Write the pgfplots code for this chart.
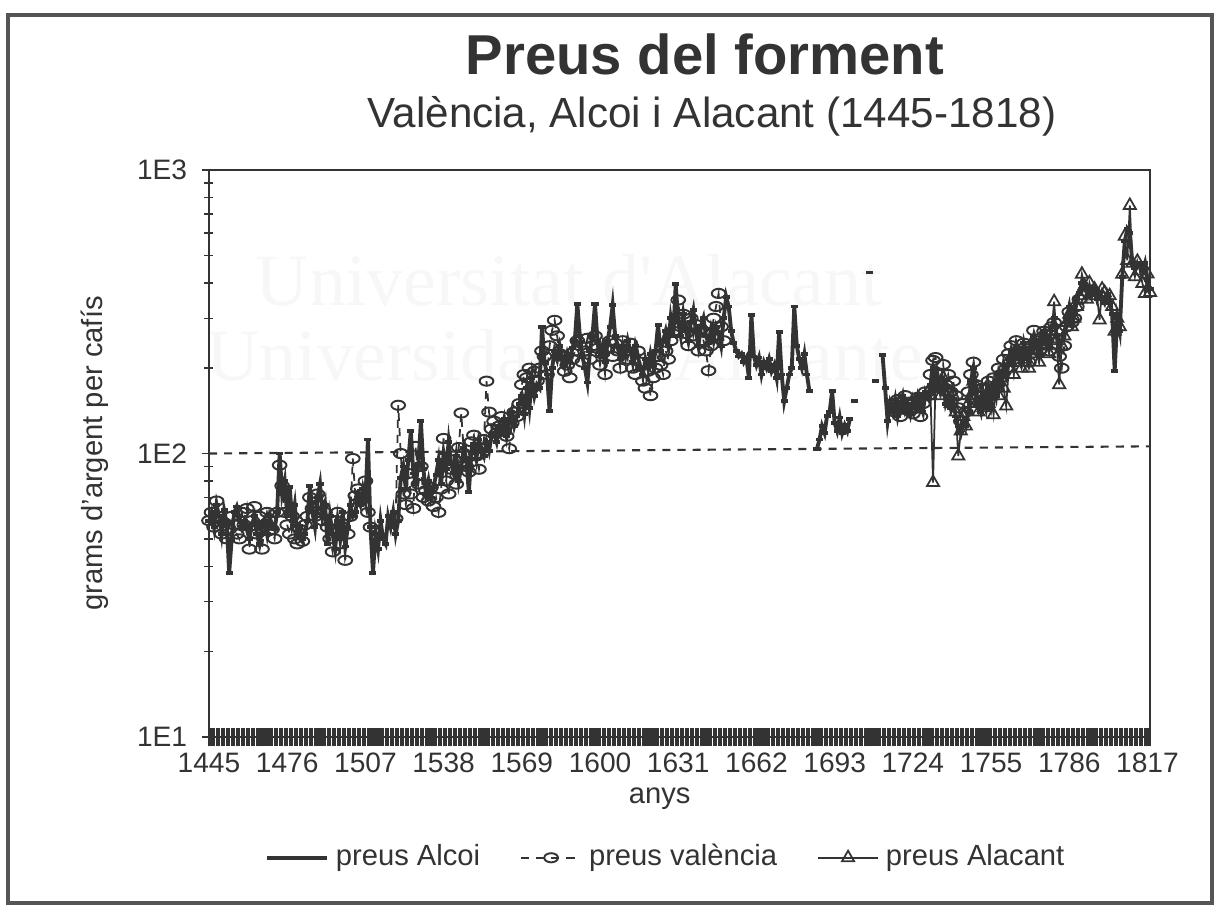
\documentclass[border=0pt]{standalone}
\usepackage{fontspec}
\setmainfont{Liberation Sans}
\newfontfamily\wmfont{Liberation Serif}
\usepackage{pgfplots}
\pgfplotsset{compat=1.18}
\definecolor{ink}{HTML}{333333}
\definecolor{framec}{HTML}{555555}
\begin{document}
\begin{tikzpicture}
\path[use as bounding box] (0,0) rectangle (12.21,9.08);
\draw[framec, line width=0.9pt] (0.08,0.05) rectangle (12.12,8.93);
% faint watermark of the scan
\node[font=\wmfont\fontsize{21}{24}\selectfont, text=black!3, anchor=base] at (5.69,6.03) {Universitat d'Alacant};
\node[font=\wmfont\fontsize{21}{24}\selectfont, text=black!3, anchor=base] at (5.65,5.28) {Universidad de Alicante};
% titles
\node[font=\bfseries\fontsize{16}{19}\selectfont, text=ink, anchor=base] at (7.05,8.34) {Preus del forment};
\node[font=\fontsize{12}{14}\selectfont, text=ink, anchor=base] at (7.12,7.81) {València, Alcoi i Alacant (1445-1818)};
\begin{axis}[
  at={(2.09cm,1.71cm)}, anchor=south west,
  scale only axis, width=9.41cm, height=5.67cm,
  xmin=1445, xmax=1818,
  ymode=log, ymin=10, ymax=1000,
  xtick={1445,1476,...,1817},
  minor xtick={1445,1446,...,1818},
  ytick={10,100,1000}, yticklabels={1E1,1E2,1E3},
  tick pos=left,
  axis line style={ink, line width=0.8pt},
  tick align=center,
  major tick length=1.9mm, minor tick length=1.9mm,
  xtick style={ink, line width=0.6pt},
  ytick style={ink, line width=0.4pt, /pgfplots/major tick length=1.4mm, /pgfplots/minor tick length=0.9mm},
  tick label style={font=\fontsize{8}{9.6}\selectfont, text=ink},
  xticklabel style={yshift=0.6mm},
  /pgf/number format/assume math mode=true,
  /pgf/number format/1000 sep={},
  xlabel={anys}, ylabel={grams d'argent per cafís},
  label style={font=\fontsize{8.3}{10}\selectfont, text=ink},
  xlabel style={at={(axis description cs:0.479,-0.118)}, anchor=base},
  ylabel style={at={(axis description cs:-0.121,0.5)}, anchor=center},
  unbounded coords=jump,
  legend columns=3,
  legend style={at={(0.488,-0.213)}, anchor=center, draw=none, fill=none,
    font=\fontsize{8.3}{10}\selectfont, text=ink,
    /tikz/every even column/.append style={column sep=3.3mm}},
]
% reference line at 100
\addplot[ink, line width=0.6pt, dash pattern=on 2.3pt off 2pt, forget plot]
  coordinates {(1445,100) (1818,106)};
% preus Alcoi
\addplot[ink, line width=1.1pt, mark=-, mark size=1pt] coordinates {
(1445,58)(1446,62)(1447,55)(1448,66)(1449,60)(1450,52)(1451,63)(1452,57)(1453,38)(1454,50)
(1455,62)(1456,65)(1457,60)(1458,55)(1459,58)(1460,54)(1461,50)(1462,56)(1463,60)(1464,52)
(1465,48)(1466,55)(1467,58)(1468,52)(1469,60)(1470,56)(1471,54)(1472,62)(1473,100)(1474,72)
(1475,80)(1476,60)(1477,76)(1478,58)(1479,66)(1480,52)(1481,55)(1482,50)(1483,52)(1484,58)
(1485,77)(1486,62)(1487,55)(1488,70)(1489,78)(1490,60)(1491,66)(1492,48)(1493,60)(1494,52)
(1495,46)(1496,58)(1497,50)(1498,62)(1499,47)(1500,55)(1501,66)(1502,60)(1503,62)(1504,70)
(1505,66)(1506,75)(1507,68)(1508,112)(1509,55)(1510,38)(1511,52)(1512,46)(1513,58)(1514,50)
(1515,48)(1516,60)(1517,55)(1518,62)(1519,52)(1520,58)(1521,82)(1522,90)(1523,75)(1524,95)
(1525,120)(1526,85)(1527,78)(1528,92)(1529,130)(1530,88)(1531,72)(1532,80)(1533,70)(1534,76)
(1535,84)(1536,95)(1537,78)(1538,100)(1539,88)(1540,110)(1541,92)(1542,85)(1543,98)(1544,80)
(1545,90)(1546,105)(1547,95)(1548,73)(1549,100)(1550,108)(1551,96)(1552,112)(1553,104)(1554,98)
(1555,110)(1556,102)(1557,115)(1558,118)(1559,110)(1560,125)(1561,120)(1562,132)(1563,115)(1564,128)
(1565,140)(1566,125)(1567,135)(1568,150)(1569,160)(1570,138)(1571,170)(1572,145)(1573,185)(1574,160)
(1575,175)(1576,170)(1577,280)(1578,210)(1579,190)(1580,141)(1581,200)(1582,230)(1583,215)(1584,240)
(1585,220)(1586,205)(1587,225)(1588,210)(1589,235)(1590,250)(1591,337)(1592,260)(1593,220)(1594,200)
(1595,178)(1596,230)(1597,260)(1598,337)(1599,250)(1600,220)(1601,240)(1602,210)(1603,250)(1604,280)
(1605,333)(1606,260)(1607,240)(1608,215)(1609,235)(1610,220)(1611,250)(1612,230)(1613,210)(1614,240)
(1615,220)(1616,200)(1617,190)(1618,215)(1619,200)(1620,225)(1621,205)(1622,230)(1623,284)(1624,230)
(1625,250)(1626,270)(1627,240)(1628,300)(1629,260)(1630,395)(1631,290)(1632,260)(1633,310)(1634,270)
(1635,250)(1636,290)(1637,320)(1638,270)(1639,240)(1640,280)(1641,300)(1642,260)(1643,245)(1644,275)
(1645,250)(1646,280)(1647,265)(1648,240)(1649,300)(1650,357)(1651,330)(1652,270)(1653,245)(1654,230)
(1655,220)(1656,225)(1657,210)(1658,218)(1659,185)(1660,308)(1661,220)(1662,205)(1663,218)(1664,190)
(1665,210)(1666,200)(1667,215)(1668,195)(1669,205)(1670,185)(1671,268)(1672,190)(1673,153)(1674,170)
(1675,190)(1676,200)(1677,330)(1678,240)(1679,215)(1680,200)(1681,224)(1682,190)(1683,166)(1684,nan)
(1686,104)(1687,112)(1688,125)(1689,118)(1690,136)(1691,140)(1692,166)(1693,128)(1694,120)(1695,134)
(1696,118)(1697,126)(1698,120)(1699,132)(1700,nan)(1701,153)(1702,nan)(1707,435)(1708,nan)(1709,180)
(1710,nan)(1712,222)(1713,170)(1714,130)(1715,150)(1716,140)(1717,155)(1718,135)(1719,148)(1720,160)
(1721,142)(1722,150)(1723,138)(1724,155)(1725,145)(1726,160)(1727,150)(1728,140)(1729,165)(1730,158)
(1731,175)(1732,200)(1733,170)(1734,185)(1735,165)(1736,175)(1737,150)(1738,160)(1739,145)(1740,155)
(1741,135)(1742,125)(1743,118)(1744,130)(1745,125)(1746,140)(1747,180)(1748,200)(1749,165)(1750,150)
(1751,140)(1752,160)(1753,145)(1754,170)(1755,150)(1756,175)(1757,160)(1758,190)(1759,175)(1760,205)
(1761,190)(1762,215)(1763,230)(1764,205)(1765,240)(1766,220)(1767,210)(1768,245)(1769,225)(1770,215)
(1771,235)(1772,260)(1773,240)(1774,220)(1775,250)(1776,270)(1777,255)(1778,240)(1779,280)(1780,300)
(1781,260)(1782,230)(1783,250)(1784,265)(1785,300)(1786,330)(1787,290)(1788,310)(1789,350)(1790,370)
(1791,400)(1792,380)(1793,390)(1794,360)(1795,375)(1796,380)(1797,350)(1798,370)(1799,355)(1800,340)
(1801,365)(1802,340)(1803,310)(1804,196)(1805,300)(1806,270)(1807,420)(1808,560)(1809,620)(1810,600)
(1811,470)(1812,450)(1813,470)(1814,460)(1815,440)(1816,470)(1817,410)(1818,380)
};
\addlegendentry{preus Alcoi}
% preus valencia
\addplot[ink, line width=0.5pt, dash pattern=on 2.3pt off 2pt,
  mark=o, mark size=1.3pt, mark options={solid, xscale=1.5, line width=0.55pt}] coordinates {
(1445,58)(1446,62)(1447,55)(1448,68)(1449,60)(1450,52)(1451,57)(1452,50)(1453,54)(1454,60)
(1455,56)(1456,52)(1457,50)(1458,62)(1459,56)(1460,64)(1461,46)(1462,58)(1463,65)(1464,52)
(1465,60)(1466,46)(1467,55)(1468,62)(1469,58)(1470,54)(1471,50)(1472,62)(1473,91)(1474,77)
(1475,62)(1476,56)(1477,52)(1478,60)(1479,50)(1480,48)(1481,54)(1482,49)(1483,56)(1484,60)
(1485,70)(1486,64)(1487,60)(1488,72)(1489,66)(1490,58)(1491,62)(1492,55)(1493,50)(1494,45)
(1495,58)(1496,62)(1497,48)(1498,55)(1499,42)(1500,52)(1501,60)(1502,96)(1503,71)(1504,75)
(1505,68)(1506,72)(1507,80)(1508,62)(1509,55)(1510,nan)(1519,59)(1520,148)(1521,100)(1522,72)
(1523,66)(1524,85)(1525,72)(1526,64)(1527,106)(1528,78)(1529,90)(1530,70)(1531,74)(1532,68)
(1533,76)(1534,65)(1535,70)(1536,62)(1537,75)(1538,113)(1539,80)(1540,72)(1541,88)(1542,95)
(1543,78)(1544,105)(1545,139)(1546,100)(1547,90)(1548,86)(1549,110)(1550,116)(1551,98)(1552,88)
(1553,104)(1554,112)(1555,180)(1556,140)(1557,122)(1558,130)(1559,118)(1560,125)(1561,135)(1562,120)
(1563,115)(1564,104)(1565,128)(1566,140)(1567,135)(1568,150)(1569,175)(1570,190)(1571,185)(1572,200)
(1573,170)(1574,195)(1575,180)(1576,200)(1577,230)(1578,220)(1579,190)(1580,240)(1581,272)(1582,295)
(1583,260)(1584,225)(1585,220)(1586,195)(1587,205)(1588,185)(1589,215)(1590,230)(1591,250)(1592,240)
(1593,210)(1594,230)(1595,255)(1596,215)(1597,240)(1598,260)(1599,235)(1600,205)(1601,225)(1602,190)
(1603,235)(1604,250)(1605,220)(1606,245)(1607,230)(1608,200)(1609,250)(1610,230)(1611,215)(1612,245)
(1613,200)(1614,190)(1615,230)(1616,210)(1617,180)(1618,170)(1619,195)(1620,160)(1621,185)(1622,200)
(1623,220)(1624,205)(1625,190)(1626,230)(1627,215)(1628,250)(1629,270)(1630,300)(1631,348)(1632,280)
(1633,310)(1634,265)(1635,240)(1636,300)(1637,260)(1638,285)(1639,230)(1640,275)(1641,250)(1642,230)
(1643,196)(1644,240)(1645,300)(1646,330)(1647,367)(1648,280)(1649,250)(1650,nan)
(1716,150)(1717,140)(1718,155)(1719,135)(1720,148)(1721,160)(1722,142)(1723,152)(1724,138)(1725,145)
(1726,158)(1727,135)(1728,150)(1729,165)(1730,160)(1731,190)(1732,213)(1733,218)(1734,190)(1735,170)
(1736,206)(1737,175)(1738,190)(1739,165)(1740,180)(1741,160)(1742,145)(1743,130)(1744,150)(1745,140)
(1746,165)(1747,190)(1748,210)(1749,175)(1750,160)(1751,150)(1752,170)(1753,155)(1754,180)(1755,160)
(1756,185)(1757,170)(1758,200)(1759,190)(1760,215)(1761,200)(1762,225)(1763,240)(1764,215)(1765,250)
(1766,230)(1767,220)(1768,245)(1769,230)(1770,210)(1771,240)(1772,272)(1773,250)(1774,230)(1775,255)
(1776,270)(1777,250)(1778,230)(1779,280)(1780,290)(1781,255)(1782,220)(1783,200)(1784,240)(1785,280)
(1786,316)(1787,290)(1788,300)(1789,330)(1790,350)
};
\addlegendentry{preus valència}
% preus Alacant
\addplot[ink, line width=0.5pt, mark=triangle, mark size=2pt] coordinates {
(1730,165)(1731,160)(1732,79)(1733,180)(1734,170)(1735,160)(1736,185)(1737,170)(1738,165)(1739,150)
(1740,160)(1741,140)(1742,98)(1743,120)(1744,135)(1745,125)(1746,150)(1747,160)(1748,180)(1749,150)
(1750,140)(1751,165)(1752,145)(1753,170)(1754,150)(1755,160)(1756,137)(1757,175)(1758,160)(1759,185)
(1760,170)(1761,147)(1762,200)(1763,220)(1764,190)(1765,230)(1766,210)(1767,200)(1768,230)(1769,215)
(1770,200)(1771,225)(1772,250)(1773,230)(1774,210)(1775,240)(1776,260)(1777,240)(1778,225)(1779,270)
(1780,343)(1781,250)(1782,175)(1783,240)(1784,260)(1785,290)(1786,310)(1787,280)(1788,300)(1789,330)
(1790,360)(1791,429)(1792,390)(1793,350)(1794,400)(1795,370)(1796,380)(1797,360)(1798,296)(1799,380)
(1800,370)(1801,350)(1802,360)(1803,330)(1804,270)(1805,300)(1806,280)(1807,429)(1808,584)(1809,480)
(1810,750)(1811,469)(1812,420)(1813,476)(1814,440)(1815,398)(1816,367)(1817,430)(1818,370)
};
\addlegendentry{preus Alacant}
\end{axis}
\end{tikzpicture}
\end{document}
